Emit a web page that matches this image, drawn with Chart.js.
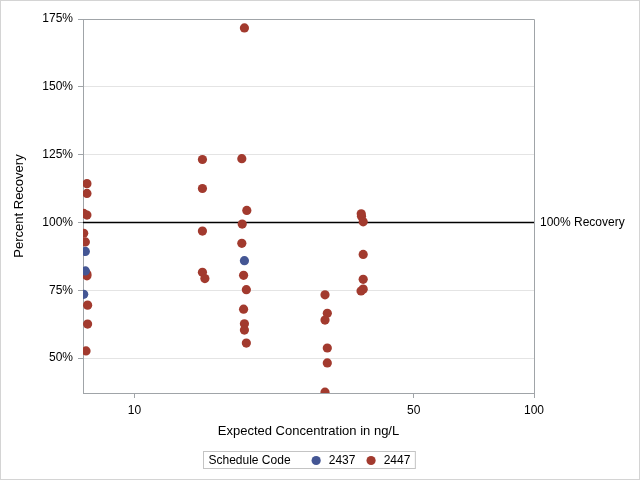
<!DOCTYPE html>
<html>
<head>
<meta charset="utf-8">
<script src="https://cdn.jsdelivr.net/npm/chart.js@4/dist/chart.umd.min.js"></script>
<style>
  html, body { margin: 0; padding: 0; background: #fff; }
</style>
</head>
<body>
<canvas id="chart" width="640" height="480"></canvas>
<script>
// Schedule codes and their colours
var codes = ['2437', '2447']
var colors = ['#445694', '#A23A2E']

// Expected concentration (ng/L, jittered as plotted) and percent recovery
var conc2437 = [7.53, 7.53, 7.46, 18.84]
var rec2437 = [89.3, 82.1, 73.5, 85.9]

var conc2447 = [7.6, 7.6, 7.6, 7.46, 7.46, 7.53, 7.6, 7.6, 7.63, 7.63, 7.56,
    14.79, 14.79, 14.79, 14.79, 15.0,
    18.84, 18.56, 19.1, 18.6, 18.56, 18.75, 19.05, 18.75, 18.84, 18.84, 19.05,
    29.98, 30.38, 29.98, 30.38, 30.38, 29.98,
    36.94, 37.0, 37.36, 37.36, 37.36, 37.36, 36.9]
var rec2447 = [114.3, 110.7, 102.7, 103.3, 96.0, 92.8, 81.0, 80.3, 69.5, 62.5, 52.6,
    123.2, 112.5, 96.8, 81.6, 79.3,
    171.7, 123.5, 104.4, 99.4, 92.3, 80.5, 75.2, 68.0, 62.6, 60.3, 55.5,
    73.3, 66.5, 64.0, 53.7, 48.2, 37.4,
    103.2, 102.3, 100.2, 88.2, 79.0, 75.4, 74.7]

// Axes
var xTicks = [10, 50, 100]
var yTicks = [50, 75, 100, 125, 150, 175]
var refValue = 100
var refLabel = '100% Recovery'
var legendTitle = 'Schedule Code'

var fontFamily = "'Liberation Sans', Arial, sans-serif"
var axisGray = '#a0a4a8'

Chart.defaults.font.family = fontFamily
Chart.defaults.color = '#000'

function toPoints(xs, ys) {
    return xs.map((x, i) => ({ x: x, y: ys[i] }))
}

var datasets = [
    { label: codes[0], data: toPoints(conc2437, rec2437) },
    { label: codes[1], data: toPoints(conc2447, rec2447) }
].map((ds, i) => Object.assign(ds, {
    backgroundColor: colors[i],
    borderWidth: 0,
    pointRadius: 4.6,
    pointHoverRadius: 4.6,
    clip: 0
}))

// Reference line, plot frame, legend box, outer frame
var extras = {
    id: 'extras',
    beforeDatasetsDraw(chart) {
        var ctx = chart.ctx, a = chart.chartArea
        var y = Math.round(chart.scales.y.getPixelForValue(refValue)) + 0.5
        ctx.save()
        ctx.strokeStyle = '#000'
        ctx.lineWidth = 1.3
        ctx.beginPath()
        ctx.moveTo(a.left, y)
        ctx.lineTo(a.right, y)
        ctx.stroke()
        ctx.restore()
    },
    afterDraw(chart) {
        var ctx = chart.ctx, a = chart.chartArea
        ctx.save()
        // top and right sides of the plot frame
        ctx.strokeStyle = axisGray
        ctx.lineWidth = 1
        ctx.beginPath()
        ctx.moveTo(a.left, Math.round(a.top) + 0.5)
        ctx.lineTo(Math.round(a.right) + 0.5, Math.round(a.top) + 0.5)
        ctx.lineTo(Math.round(a.right) + 0.5, a.bottom)
        ctx.stroke()

        // reference label
        var y = chart.scales.y.getPixelForValue(refValue)
        ctx.font = '12px ' + fontFamily
        ctx.fillStyle = '#000'
        ctx.textBaseline = 'middle'
        ctx.textAlign = 'left'
        ctx.fillText(refLabel, a.right + 6, y)

        // legend
        var r = 4.6
        var tw = ctx.measureText(legendTitle).width
        var lw = codes.map(c => ctx.measureText(c).width)
        var total = 5 + tw + 21 + (2 * r + 8 + lw[0]) + 11 + (2 * r + 8 + lw[1]) + 5
        var bx = Math.round((a.left + a.right) / 2 - total / 2) + 0.5
        var by = 451.5, bh = 17
        ctx.strokeStyle = '#c4c4c4'
        ctx.strokeRect(bx, by, total, bh)
        var cy = by + bh / 2 + 0.5
        var x = bx + 5
        ctx.fillText(legendTitle, x, cy)
        x += tw + 21
        codes.forEach((c, i) => {
            ctx.fillStyle = colors[i]
            ctx.beginPath()
            ctx.arc(x + r, cy, r, 0, Math.PI * 2)
            ctx.fill()
            x += 2 * r + 8
            ctx.fillStyle = '#000'
            ctx.fillText(c, x, cy)
            x += lw[i] + 11
        })

        // outer frame
        ctx.strokeStyle = '#d4d4d4'
        ctx.strokeRect(0.5, 0.5, 639, 479)
        ctx.restore()
    }
}

new Chart(document.getElementById('chart'), {
    type: 'scatter',
    data: { datasets: datasets },
    options: {
        responsive: false,
        animation: false,
        devicePixelRatio: 1,
        layout: { padding: { top: 19, right: 106, bottom: 41, left: 0 } },
        plugins: {
            legend: { display: false },
            tooltip: { enabled: false }
        },
        scales: {
            x: {
                type: 'logarithmic',
                min: 7.43,
                max: 100,
                afterBuildTicks: s => { s.ticks = xTicks.map(v => ({ value: v })) },
                afterFit: s => { s.height = 46 },
                ticks: {
                    callback: v => String(v),
                    font: { size: 12 },
                    padding: 5,
                    maxRotation: 0,
                    autoSkip: false
                },
                grid: { drawOnChartArea: false, tickLength: 5, tickColor: axisGray },
                border: { color: axisGray },
                title: {
                    display: true,
                    text: 'Expected Concentration in ng/L',
                    font: { size: 13 },
                    padding: { top: 0, bottom: 0 }
                }
            },
            y: {
                type: 'linear',
                min: 37.1,
                max: 175,
                afterBuildTicks: s => { s.ticks = yTicks.map(v => ({ value: v })) },
                afterFit: s => { s.width = 83 },
                ticks: {
                    callback: v => v + '%',
                    font: { size: 12 },
                    padding: 5
                },
                grid: { color: '#e4e4e4', tickLength: 5, tickColor: axisGray },
                border: { color: axisGray },
                title: {
                    display: true,
                    text: 'Percent Recovery',
                    font: { size: 13 },
                    padding: { top: 12, bottom: 0 }
                }
            }
        }
    },
    plugins: [extras]
})
</script>
</body>
</html>
